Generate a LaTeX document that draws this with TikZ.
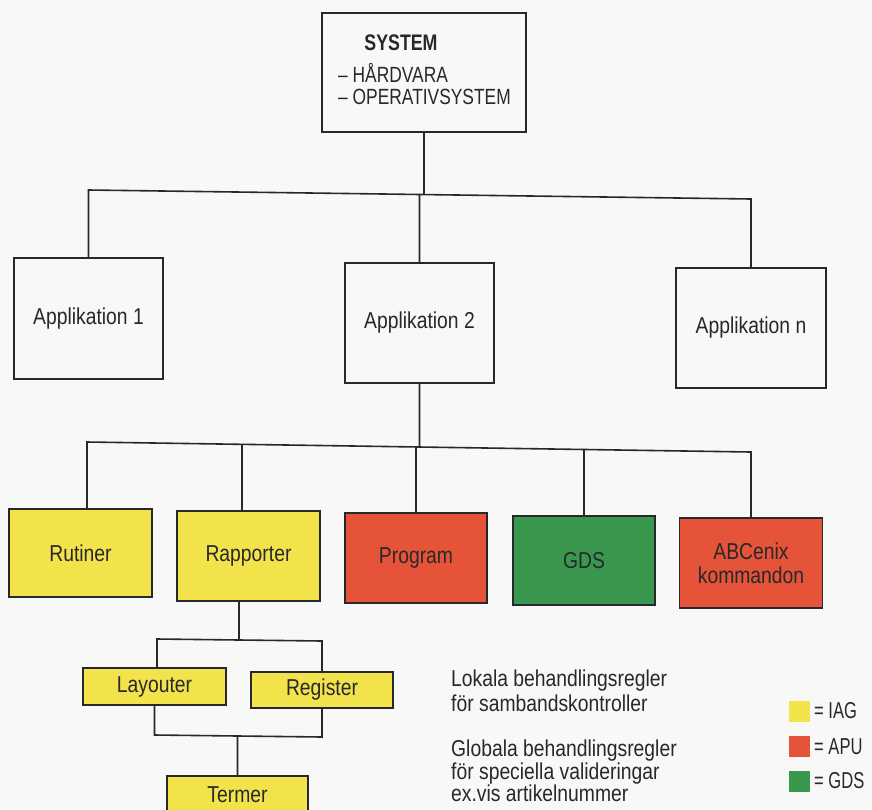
\documentclass[tikz,border=0pt]{standalone}
\usepackage{fontspec}
\setmainfont[FakeStretch=0.84]{Liberation Sans}
\newfontfamily\sysfont[FakeStretch=0.79]{Liberation Sans}
\newfontfamily\legfont[FakeStretch=0.72]{Liberation Sans}
\definecolor{ink}{RGB}{40,40,44}
\definecolor{iag}{RGB}{242,227,74}
\definecolor{apu}{RGB}{229,84,56}
\definecolor{gdsc}{RGB}{58,152,78}
\definecolor{paper}{RGB}{248,248,246}
\begin{document}
\begin{tikzpicture}[x=1pt,y=-1pt,
  bx/.style={draw=ink, line width=1.7pt, text=ink, font=\fontsize{23}{24}\selectfont, align=center, inner sep=0pt},
  ln/.style={draw=ink, line width=1.6pt},
  txt/.style={text=ink, font=\fontsize{23}{24}\selectfont, inner sep=0pt},
  key/.style={minimum size=21pt, inner sep=0pt}]
\fill[paper] (0,0) rectangle (872,809);
\useasboundingbox (0,0) rectangle (872,809);
\clip (0,0) rectangle (872,809);

% top system box
\node[bx, minimum width=204pt, minimum height=119pt] (sys) at (424,72.5) {};
\node[txt, font=\sysfont\bfseries\fontsize{22.5}{24}\selectfont] (sysT) at (401,43) {SYSTEM};
\node[txt, anchor=west, font=\sysfont\fontsize{22}{24}\selectfont] (hw) at (338,73) {– HÅRDVARA};
\node[txt, anchor=west, font=\sysfont\fontsize{22}{24}\selectfont] (os) at (338,97) {– OPERATIVSYSTEM};

% applications
\node[bx, minimum width=149pt, minimum height=121pt] (a1) at (88.5,318.5) {\raisebox{3pt}{Applikation 1}};
\node[bx, minimum width=149pt, minimum height=120pt] (a2) at (419.5,323) {\raisebox{3pt}{Applikation 2}};
\node[bx, minimum width=150pt, minimum height=120pt] (an) at (751,328) {\raisebox{3pt}{Applikation n}};

% coloured components
\node[bx, fill=iag, minimum width=143pt, minimum height=88pt] (rut) at (80.5,553) {Rutiner};
\node[bx, fill=iag, minimum width=143pt, minimum height=90pt] (rap) at (248.5,556) {Rapporter};
\node[bx, fill=apu, minimum width=142.5pt, minimum height=90pt] (prog) at (416,558) {Program};
\node[bx, fill=gdsc, minimum width=142.5pt, minimum height=89pt] (gds) at (584,560.5) {GDS};
\node[bx, fill=apu, minimum width=143pt, minimum height=90pt] (abc) at (751,563) {ABCenix\\kommandon};

\node[bx, fill=iag, minimum width=143pt, minimum height=37pt] (lay) at (154.5,686.5) {Layouter};
\node[bx, fill=iag, minimum width=142pt, minimum height=36pt] (reg) at (322,690) {Register};
\node[bx, fill=iag, minimum width=141pt, minimum height=38pt] (ter) at (237.5,795) {Termer};

% upper bus
\coordinate (uL) at (88.5,190);
\coordinate (uR) at (751,199);
\draw[ln] (a1.north) -- (uL) -- (uR) -- (an.north);
\draw[ln] (sys.south) -- (intersection of uL--uR and sys.south--sys.north);
\draw[ln] (a2.north) -- (intersection of uL--uR and a2.north--a2.south);

% lower bus
\coordinate (lL) at (87,442);
\coordinate (lR) at (751,452);
\coordinate (l2) at (242,444.3);
\draw[ln] (rut.north -| lL) -- (lL) -- (lR) -- (abc.north);
\draw[ln] (rap.north -| l2) -- (l2);
\draw[ln] (a2.south) -- (intersection of lL--lR and a2.north--a2.south);
\draw[ln] (prog.north) -- (intersection of lL--lR and prog.north--prog.south);
\draw[ln] (gds.north) -- (intersection of lL--lR and gds.north--gds.south);

% Rapporter subtree
\coordinate (m1) at (239,640);
\coordinate (mL) at (157,639);
\coordinate (mR) at (322,641);
\draw[ln] (rap.south -| m1) -- (m1);
\draw[ln] (lay.north -| mL) -- (mL) -- (mR) -- (reg.north);
\coordinate (nL) at (154.5,735);
\coordinate (nR) at (322,737);
\draw[ln] (lay.south) -- (nL) -- (nR) -- (reg.south);
\draw[ln] (intersection of nL--nR and ter.north--ter.south) -- (ter.north);

% explanatory text
\node[txt, anchor=west, align=left, font=\fontsize{23}{25}\selectfont] (lok) at (451,690.5) {Lokala behandlingsregler\\för sambandskontroller};
\node[txt, anchor=west, align=left, font=\fontsize{23}{22.5}\selectfont] (glob) at (451,771) {Globala behandlingsregler\\för speciella valideringar\\ex.vis artikelnummer};

% legend
\node[key, fill=iag] (kI) at (799.5,711) {};
\node[txt, anchor=west, font=\legfont\fontsize{23}{24}\selectfont] (tI) at (814,711) {= IAG};
\node[key, fill=apu] (kA) at (799.5,746.5) {};
\node[txt, anchor=west, font=\legfont\fontsize{23}{24}\selectfont] (tA) at (814,746.5) {= APU};
\node[key, fill=gdsc] (kG) at (799.5,781) {};
\node[txt, anchor=west, font=\legfont\fontsize{23}{24}\selectfont] (tG) at (814,781) {= GDS};
\end{tikzpicture}
\end{document}
